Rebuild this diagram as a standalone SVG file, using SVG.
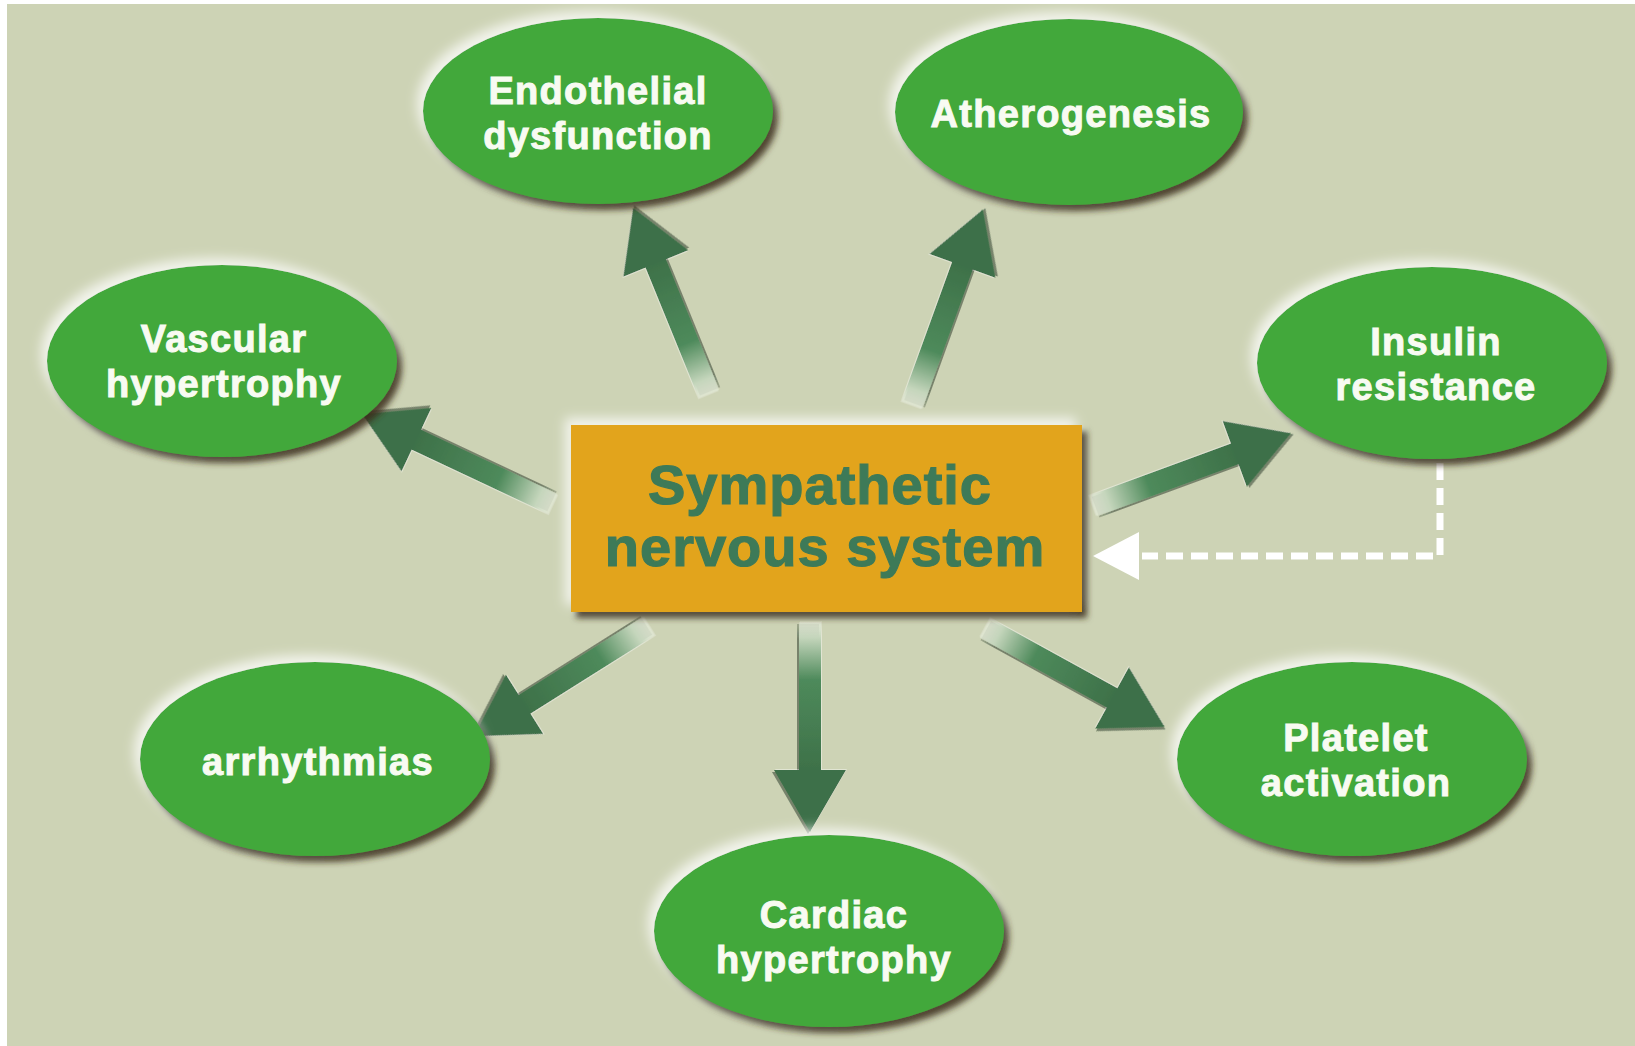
<svg xmlns="http://www.w3.org/2000/svg" width="1635" height="1046" viewBox="0 0 1635 1046">
<defs>
<style>
.ell{fill:#42a83a}
.lbl{font-family:"Liberation Sans",Arial,sans-serif;font-weight:bold;font-size:38px;fill:#f8fbf2;stroke:#f8fbf2;stroke-width:1;letter-spacing:1.3px;text-anchor:middle}
.ctr{font-family:"Liberation Sans",Arial,sans-serif;font-weight:bold;font-size:56px;fill:#3e7a58;stroke:#3e7a58;stroke-width:1.2;letter-spacing:1px;text-anchor:middle}
.shaft{fill:url(#sg)}
.head{fill:#3d7048}
.dash{fill:none;stroke:#ffffff;stroke-width:7;stroke-dasharray:17 8}
</style>
<linearGradient id="sg" x1="0" y1="0" x2="1" y2="0">
<stop offset="0" stop-color="#e4ecd8" stop-opacity="0.5"/>
<stop offset="0.1" stop-color="#c5d6bc"/>
<stop offset="0.38" stop-color="#4e8a5b"/>
<stop offset="1" stop-color="#3d7048"/>
</linearGradient>
<filter id="osh" x="-20%" y="-25%" width="140%" height="150%">
<feGaussianBlur in="SourceAlpha" stdDeviation="3" result="b"/>
<feOffset in="b" dx="5" dy="6" result="dk"/>
<feFlood flood-color="#3a2c1a" flood-opacity="0.85"/>
<feComposite in2="dk" operator="in" result="dark"/>
<feGaussianBlur in="SourceAlpha" stdDeviation="6" result="b2"/>
<feOffset in="b2" dx="-6" dy="-7" result="lt"/>
<feFlood flood-color="#ffffff" flood-opacity="0.75"/>
<feComposite in2="lt" operator="in" result="light"/>
<feMerge><feMergeNode in="light"/><feMergeNode in="dark"/><feMergeNode in="SourceGraphic"/></feMerge>
</filter>
<filter id="ash" x="-20%" y="-40%" width="140%" height="180%">
<feOffset in="SourceAlpha" dx="1.5" dy="1.5" result="o"/>
<feFlood flood-color="#1e3322" flood-opacity="0.5"/>
<feComposite in2="o" operator="in" result="d"/>
<feOffset in="SourceAlpha" dx="-1.5" dy="-1.5" result="o2"/>
<feFlood flood-color="#ffffff" flood-opacity="0.4"/>
<feComposite in2="o2" operator="in" result="l"/>
<feMerge><feMergeNode in="l"/><feMergeNode in="d"/><feMergeNode in="SourceGraphic"/></feMerge>
</filter>
</defs>
<rect x="0" y="0" width="1635" height="1046" fill="#ffffff"/>
<rect x="7" y="4" width="1628" height="1042" fill="#cdd3b5"/>

<g id="connectors">
<g id="arrow-endothelial" filter="url(#ash)" transform="translate(709,394) rotate(-112.2)">
<rect class="shaft" x="0" y="-11" width="146" height="22"/><polygon class="head" points="141,-35 201,0 141,35"/>
</g>
<g id="arrow-atherogenesis" filter="url(#ash)" transform="translate(912,405) rotate(-70.1)">
<rect class="shaft" x="0" y="-11" width="152" height="22"/><polygon class="head" points="148,-35 208,0 148,35"/>
</g>
<g id="arrow-vascular" filter="url(#ash)" transform="translate(553,504) rotate(-154.8)">
<rect class="shaft" x="0" y="-11" width="156" height="22"/><polygon class="head" points="151,-35 211,0 151,35"/>
</g>
<g id="arrow-insulin" filter="url(#ash)" transform="translate(1093,506) rotate(-20.2)">
<rect class="shaft" x="0" y="-11" width="156" height="22"/><polygon class="head" points="151,-35 211,0 151,35"/>
</g>
<g id="arrow-arrhythmias" filter="url(#ash)" transform="translate(649,626) rotate(147.8)">
<rect class="shaft" x="0" y="-11" width="152" height="22"/><polygon class="head" points="147,-35 207,0 147,35"/>
</g>
<g id="arrow-cardiac" filter="url(#ash)" transform="translate(810,622) rotate(90)">
<rect class="shaft" x="0" y="-11" width="152" height="22"/><polygon class="head" points="148,-36 210,0 148,36"/>
</g>
<g id="arrow-platelet" filter="url(#ash)" transform="translate(985,628) rotate(28.8)">
<rect class="shaft" x="0" y="-11" width="150" height="22"/><polygon class="head" points="145,-35 205,0 145,35"/>
</g>
<g id="feedback">
<path class="dash" d="M1440,463 L1440,556 L1142,556"/>
<polygon points="1093,556 1139,532 1139,580" fill="#ffffff"/>
</g>
</g>

<g id="node-center" filter="url(#osh)">
<rect x="571" y="425" width="511" height="187" fill="#e2a41f"/>
<text class="ctr" x="820" y="504">Sympathetic</text>
<text class="ctr" x="825" y="566">nervous system</text>
</g>

<g id="node-endothelial">
<ellipse class="ell" filter="url(#osh)" cx="598" cy="111" rx="175" ry="93"/>
<text class="lbl" x="598" y="104">Endothelial</text>
<text class="lbl" x="598" y="149">dysfunction</text>
</g>
<g id="node-atherogenesis">
<ellipse class="ell" filter="url(#osh)" cx="1069" cy="112" rx="174" ry="93"/>
<text class="lbl" x="1071" y="127">Atherogenesis</text>
</g>
<g id="node-vascular">
<ellipse class="ell" filter="url(#osh)" cx="222" cy="361" rx="175" ry="96"/>
<text class="lbl" x="224" y="352">Vascular</text>
<text class="lbl" x="224" y="397">hypertrophy</text>
</g>
<g id="node-insulin">
<ellipse class="ell" filter="url(#osh)" cx="1432" cy="363" rx="175" ry="96"/>
<text class="lbl" x="1436" y="355">Insulin</text>
<text class="lbl" x="1436" y="400">resistance</text>
</g>
<g id="node-arrhythmias">
<ellipse class="ell" filter="url(#osh)" cx="315" cy="759" rx="175" ry="97"/>
<text class="lbl" x="318" y="775">arrhythmias</text>
</g>
<g id="node-platelet">
<ellipse class="ell" filter="url(#osh)" cx="1352" cy="759" rx="175" ry="97"/>
<text class="lbl" x="1356" y="751">Platelet</text>
<text class="lbl" x="1356" y="796">activation</text>
</g>
<g id="node-cardiac">
<ellipse class="ell" filter="url(#osh)" cx="829" cy="931" rx="175" ry="96"/>
<text class="lbl" x="834" y="928">Cardiac</text>
<text class="lbl" x="834" y="973">hypertrophy</text>
</g>
</svg>
